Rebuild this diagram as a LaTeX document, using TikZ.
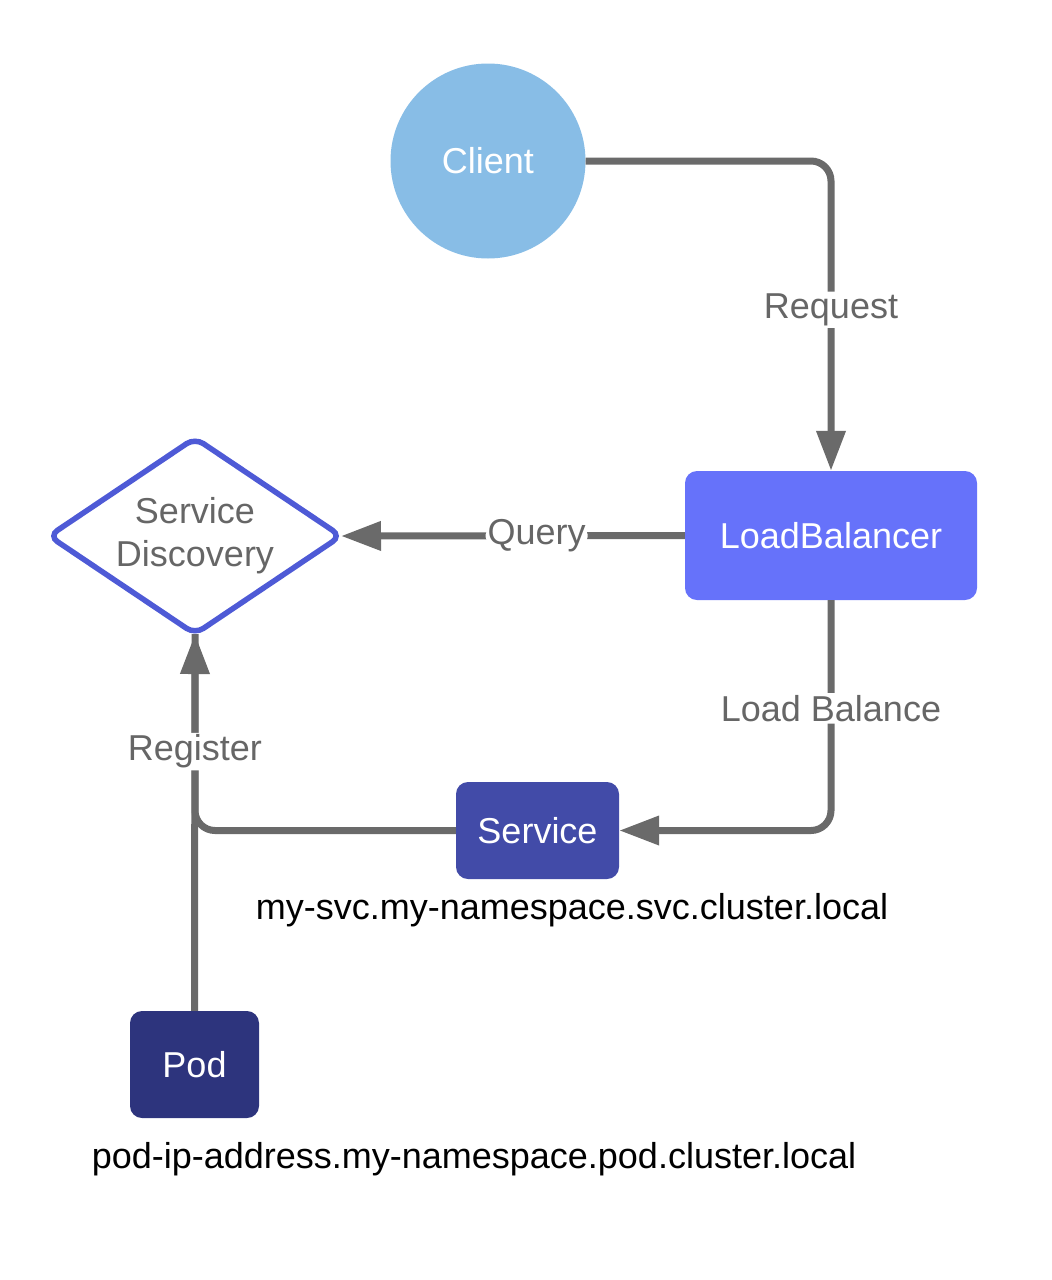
\documentclass[tikz,border=0pt]{standalone}
\usepackage{fontspec}
\setmainfont{Liberation Sans}
\usetikzlibrary{shapes.geometric,arrows.meta}
\definecolor{clientc}{HTML}{88BDE6}
\definecolor{lbc}{HTML}{6672FA}
\definecolor{svcc}{HTML}{424BA8}
\definecolor{podc}{HTML}{2D347D}
\definecolor{sdc}{HTML}{4E5AD6}
\definecolor{linec}{HTML}{6A6A6A}
\definecolor{labc}{HTML}{666666}
\tikzset{
  bigfont/.style={font=\fontsize{36pt}{43pt}\selectfont},
  box/.style={bigfont, text=white, rounded corners=12pt, inner sep=0pt},
  conn/.style={draw=linec, line width=7pt, rounded corners=20pt, -{Triangle[length=40pt,width=28pt]}},
  plain/.style={draw=linec, line width=7pt, rounded corners=20pt},
  lab/.style={bigfont, text=labc, fill=white, inner sep=2pt},
  dns/.style={bigfont, text=black, inner sep=0pt}
}
\begin{document}
\begin{tikzpicture}[x=1pt,y=-1pt]
\useasboundingbox (0,0) rectangle (1052,1280);
\node[circle, fill=clientc, minimum size=195pt, bigfont, text=white, inner sep=0pt] (client) at (488,161) {Client};
\node[box, fill=lbc, minimum width=292pt, minimum height=129pt] (lb) at (831,535.5) {LoadBalancer};
\node[diamond, draw=sdc, line width=5.5pt, rounded corners=10pt, aspect=1.5, inner sep=0pt, outer sep=0pt,
      minimum width=292pt, minimum height=196pt, bigfont, text=labc, align=center] (sd) at (195,536) {Service\\Discovery};
\node[box, fill=svcc, minimum width=163pt, minimum height=97pt] (svc) at (537.5,830.5) {Service};
\node[box, fill=podc, minimum width=129pt, minimum height=107pt] (pod) at (194.5,1064.5) {Pod};
\node[dns] (svcdns) at (572,910) {my-svc.my-namespace.svc.cluster.local};
\node[dns] (poddns) at (474,1159) {pod-ip-address.my-namespace.pod.cluster.local};

\draw[conn] (client.east) -| node[lab, pos=0.74] (reqlab) {Request} (lb.north);
\draw[conn] (lb.west) -- node[lab, pos=0.431] (qlab) {Query} (sd.east);
\draw[conn] (lb.south) |- node[lab, pos=0.235] (lblab) {Load Balance} (svc.east);
\draw[plain] (svc.west) -| (sd.south);
\draw[conn] (pod.north) -- node[lab, pos=0.688] (reglab) {Register} (sd.south);
\end{tikzpicture}
\end{document}
